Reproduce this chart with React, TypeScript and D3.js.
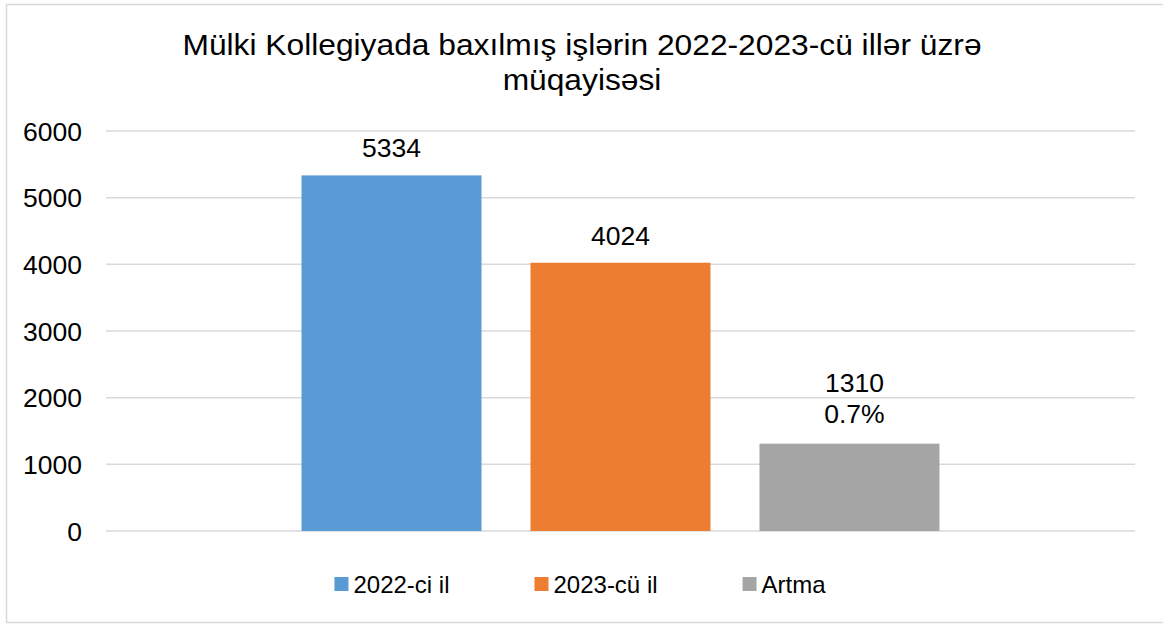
import React, { useEffect, useRef } from "react";
import * as d3 from "d3";

const WIDTH = 1163;
const HEIGHT = 625;

// data
const categories = [""];
const series = ["2022-ci il", "2023-cü il", "Artma"];
const values = [5334, 4024, 1310];
const extraLabels = ["", "", "0.7%"];
const colors = ["#5B9BD5", "#ED7D31", "#A5A5A5"];
const yTicks = [0, 1000, 2000, 3000, 4000, 5000, 6000];
const titleLines = ["Mülki Kollegiyada baxılmış işlərin 2022-2023-cü illər üzrə", "müqayisəsi"];

const FONT = "'Liberation Sans', Arial, sans-serif";

export default function App() {
  const ref = useRef<SVGSVGElement | null>(null);

  useEffect(() => {
    const svg = d3.select(ref.current);
    svg.selectAll("*").remove();

    const margin = { top: 131, right: 28, bottom: 94, left: 106 };
    const width = WIDTH - margin.left - margin.right;
    const height = HEIGHT - margin.top - margin.bottom;

    // chart frame
    svg
      .append("rect")
      .attr("x", 6.5)
      .attr("y", 4.5)
      .attr("width", WIDTH)
      .attr("height", 618)
      .attr("fill", "#fff")
      .attr("stroke", "#D9D9D9")
      .attr("stroke-width", 1.5);

    // title (the reference text is a little stretched sideways)
    svg
      .append("g")
      .attr("transform", "translate(582,0) scale(1.095,1)")
      .selectAll("text")
      .data(titleLines)
      .join("text")
      .attr("x", 0)
      .attr("y", (_, i) => 55 + i * 35)
      .attr("text-anchor", "middle")
      .attr("font-family", FONT)
      .attr("font-size", 29)
      .attr("fill", "#000")
      .text((d) => d);

    const g = svg
      .append("g")
      .attr("transform", `translate(${margin.left},${margin.top})`);

    const y = d3.scaleLinear().domain([0, 6000]).range([height, 0]);

    const x0 = d3
      .scaleBand<string>()
      .domain(categories)
      .range([0, width])
      .paddingOuter(0.3065);

    const x1 = d3
      .scaleBand<string>()
      .domain(series)
      .range([0, x0.bandwidth()])
      .paddingInner(0.214);

    // gridlines
    g.append("g")
      .selectAll("line")
      .data(yTicks)
      .join("line")
      .attr("x1", 0)
      .attr("x2", width)
      .attr("y1", (d) => y(d))
      .attr("y2", (d) => y(d))
      .attr("stroke", "#D9D9D9")
      .attr("stroke-width", 1.5);

    // y labels
    g.append("g")
      .selectAll("text")
      .data(yTicks)
      .join("text")
      .attr("x", -24)
      .attr("y", (d) => y(d))
      .attr("dy", "0.36em")
      .attr("text-anchor", "end")
      .attr("font-family", FONT)
      .attr("font-size", 26.5)
      .attr("fill", "#000")
      .text((d) => d);

    const cat = categories[0];
    const bars = g
      .append("g")
      .attr("transform", `translate(${x0(cat)},0)`);

    bars
      .selectAll("rect")
      .data(values)
      .join("rect")
      .attr("x", (_, i) => x1(series[i]) as number)
      .attr("y", (d) => y(d))
      .attr("width", x1.bandwidth())
      .attr("height", (d) => height - y(d))
      .attr("fill", (_, i) => colors[i]);

    // data labels
    const labels = bars
      .append("g")
      .selectAll("text")
      .data(values)
      .join("text")
      .attr("x", (_, i) => (x1(series[i]) as number) + x1.bandwidth() / 2 + (extraLabels[i] ? 5 : 0))
      .attr("text-anchor", "middle")
      .attr("font-family", FONT)
      .attr("font-size", 26.5)
      .attr("fill", "#000");

    labels.each(function (d, i) {
      const t = d3.select(this);
      const extra = extraLabels[i];
      if (extra) {
        t.attr("y", y(d) - 52).text(d);
        t.append("tspan")
          .attr("x", (x1(series[i]) as number) + x1.bandwidth() / 2 + 5)
          .attr("dy", 31)
          .text(extra);
      } else {
        t.attr("y", y(d) - 18).text(d);
      }
    });

    // legend
    const legend = svg.append("g");
    const items = legend
      .selectAll("g")
      .data(series)
      .join("g");

    items
      .append("rect")
      .attr("width", 14)
      .attr("height", 14)
      .attr("y", 577)
      .attr("fill", (_, i) => colors[i]);

    items
      .append("text")
      .attr("x", 19)
      .attr("y", 593)
      .attr("font-family", FONT)
      .attr("font-size", 24)
      .attr("fill", "#000")
      .text((d) => d);

    const widths: number[] = [];
    items.each(function () {
      const txt = (this as SVGGElement).querySelector("text") as SVGTextElement;
      widths.push(19 + txt.getComputedTextLength());
    });
    const gap = 85;
    const total = d3.sum(widths) + gap * (widths.length - 1);
    let cx = 580 - total / 2;
    items.attr("transform", (_, i) => {
      const tx = cx;
      cx += widths[i] + gap;
      return `translate(${tx},0)`;
    });
  }, []);

  return (
    <svg
      ref={ref}
      width={WIDTH}
      height={HEIGHT}
      style={{ position: "absolute", left: 0, top: 0, display: "block", background: "#fff" }}
    />
  );
}
